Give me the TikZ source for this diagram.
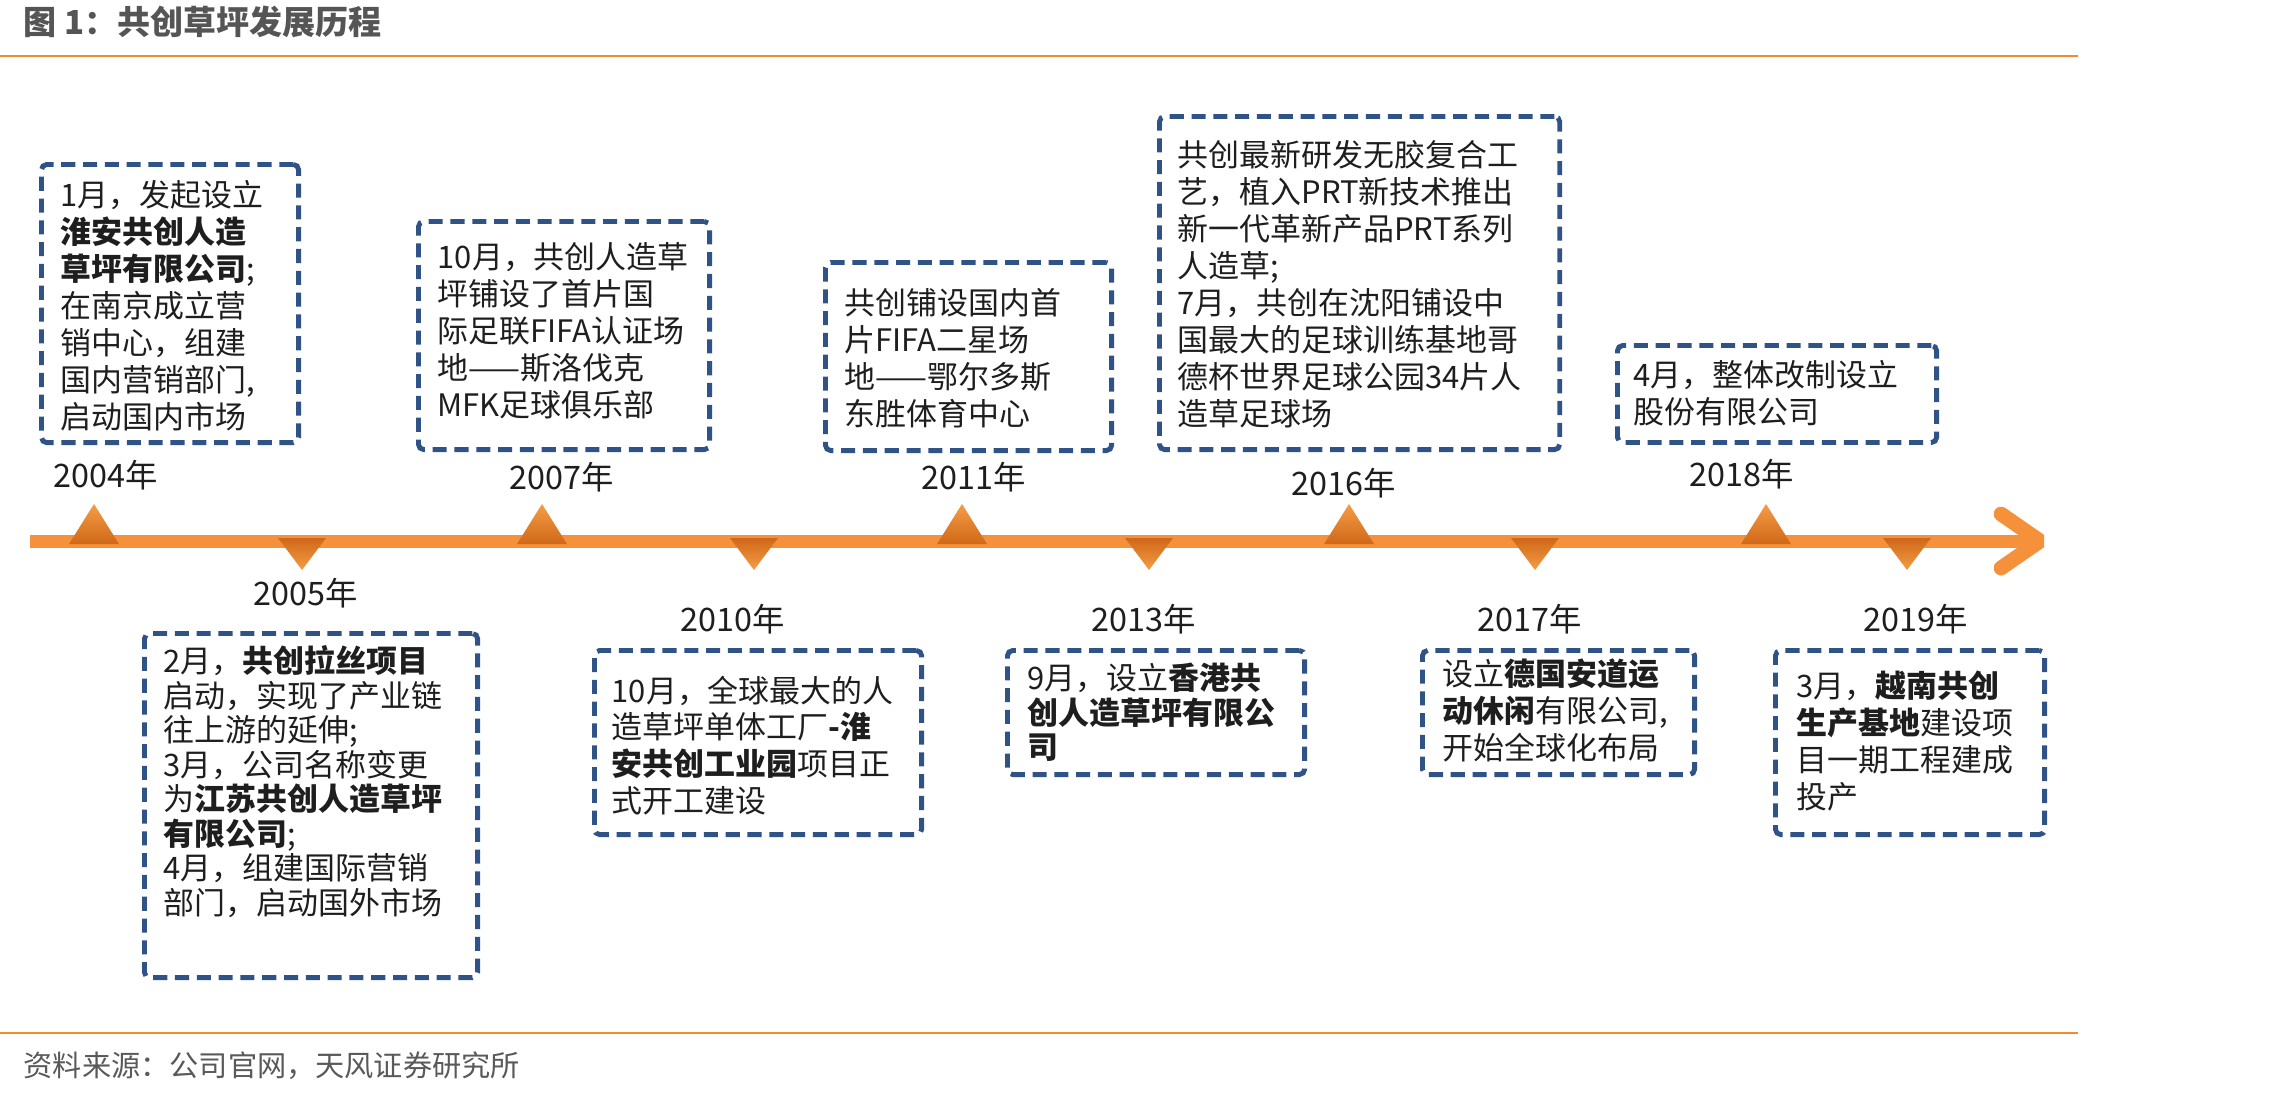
\documentclass[tikz,border=0pt]{standalone}
\usepackage{fontspec}
\setmainfont{Noto Sans CJK SC}
\usetikzlibrary{positioning}
\definecolor{ruleColor}{HTML}{F28C28}
\definecolor{axisColor}{HTML}{F4913A}
\definecolor{markLight}{HTML}{F59C46}
\definecolor{markDark}{HTML}{CF6818}
\definecolor{boxColor}{HTML}{2F5387}
\definecolor{titleColor}{HTML}{555555}
\definecolor{srcColor}{HTML}{595959}
\definecolor{txtColor}{HTML}{1E1E1E}
\tikzset{
	upmark/.pic={\shade[top color=markLight, bottom color=markDark] (-25,3) -- (0,-37) -- (25,3) -- cycle;},
	downmark/.pic={\shade[top color=markDark, bottom color=markLight] (-24,-3) -- (0,29) -- (24,-3) -- cycle;},
	evbox/.style={draw=boxColor, line width=1.4pt, dash pattern=on 4pt off 2.2pt,
		rounded corners=1.5pt, anchor=north west, inner sep=0},
	evtext/.style={anchor=north west, align=left, inner sep=0, text=txtColor,
		font=\fontsize{8.8}{10.5}\selectfont},
	yr/.style={inner sep=0, text=txtColor, font=\fontsize{9.2}{11}\selectfont}
}

\begin{document}
\begin{tikzpicture}[x=0.01cm, y=-0.01cm]
	\useasboundingbox (0,0) rectangle (2279,1096);
	\node[anchor=west, inner sep=0, text=titleColor, font=\fontsize{9.4}{11}\selectfont\bfseries] (title) at (23,22) {图 1：共创草坪发展历程};
	\draw[ruleColor, line width=0.7pt] (0,56) -- (2078,56);
	\draw[ruleColor, line width=0.7pt] (0,1033) -- (2078,1033);
	\node[anchor=west, inner sep=0, text=srcColor, font=\fontsize{8.3}{10}\selectfont] (src) at (23,1066) {资料来源：公司官网，天风证券研究所};
	% time axis
	\draw[axisColor, line width=3.7pt] (30,541) -- (2038,541);
	\draw[axisColor, line width=4.2pt, line cap=round, line join=bevel] (2001,514) -- (2040,541) -- (2001,568);
	\pic at (94,541) {upmark};
	\pic at (542,541) {upmark};
	\pic at (962,541) {upmark};
	\pic at (1349,541) {upmark};
	\pic at (1766,541) {upmark};
	\pic at (302,541) {downmark};
	\pic at (754,541) {downmark};
	\pic at (1149,541) {downmark};
	\pic at (1535,541) {downmark};
	\pic at (1907,541) {downmark};
	% years
	\node[yr] (y04) at (106,475) {2004年};
	\node[yr] (y05) at (306,593) {2005年};
	\node[yr] (y07) at (562,477) {2007年};
	\node[yr] (y10) at (733,619) {2010年};
	\node[yr] (y11) at (974,477) {2011年};
	\node[yr] (y13) at (1144,619) {2013年};
	\node[yr] (y16) at (1344,483) {2016年};
	\node[yr] (y17) at (1530,619) {2017年};
	\node[yr] (y18) at (1742,474) {2018年};
	\node[yr] (y19) at (1916,619) {2019年};
	% event boxes
	\node[evbox, minimum width=2.57cm, minimum height=2.78cm] (b04) at (39,162) {};
	\node[evtext] (t04) at (60,180) {1月，发起设立\\\textbf{淮安共创人造}\\\textbf{草坪有限公司};\\在南京成立营\\销中心，组建\\国内营销部门,\\启动国内市场};
	\node[evbox, minimum width=3.33cm, minimum height=3.44cm] (b05) at (142,631) {};
	\node[evtext, font=\fontsize{8.8}{9.8}\selectfont] (t05) at (163,645) {2月，\textbf{共创拉丝项目}\\启动，实现了产业链\\往上游的延伸;\\3月，公司名称变更\\为\textbf{江苏共创人造草坪}\\\textbf{有限公司};\\4月，组建国际营销\\部门，启动国外市场};
	\node[evbox, minimum width=2.91cm, minimum height=2.28cm] (b07) at (416,219) {};
	\node[evtext] (t07) at (437,242) {10月，共创人造草\\坪铺设了首片国\\际足联FIFA认证场\\地——斯洛伐克\\MFK足球俱乐部};
	\node[evbox, minimum width=3.27cm, minimum height=1.84cm] (b10) at (592,648) {};
	\node[evtext] (t10) at (611,675) {10月，全球最大的人\\造草坪单体工厂\textbf{-淮}\\\textbf{安共创工业园}项目正\\式开工建设};
	\node[evbox, minimum width=2.86cm, minimum height=1.88cm] (b11) at (823,260) {};
	\node[evtext] (t11) at (844,288) {共创铺设国内首\\片FIFA二星场\\地——鄂尔多斯\\东胜体育中心};
	\node[evbox, minimum width=2.97cm, minimum height=1.24cm] (b13) at (1005,648) {};
	\node[evtext, font=\fontsize{8.8}{9.9}\selectfont] (t13) at (1027,662) {9月，设立\textbf{香港共}\\\textbf{创人造草坪有限公}\\\textbf{司}};
	\node[evbox, minimum width=4.00cm, minimum height=3.33cm] (b16) at (1157,114) {};
	\node[evtext] (t16) at (1177,140) {共创最新研发无胶复合工\\艺，植入PRT新技术推出\\新一代革新产品PRT系列\\人造草;\\7月，共创在沈阳铺设中\\国最大的足球训练基地哥\\德杯世界足球公园34片人\\造草足球场};
	\node[evbox, minimum width=2.72cm, minimum height=1.24cm] (b17) at (1420,648) {};
	\node[evtext] (t17) at (1442,658) {设立\textbf{德国安道运}\\\textbf{动休闲}有限公司,\\开始全球化布局};
	\node[evbox, minimum width=3.19cm, minimum height=0.97cm] (b18) at (1615,343) {};
	\node[evtext] (t18) at (1633,360) {4月，整体改制设立\\股份有限公司};
	\node[evbox, minimum width=2.69cm, minimum height=1.84cm] (b19) at (1773,648) {};
	\node[evtext] (t19) at (1796,670) {3月，\textbf{越南共创}\\\textbf{生产基地}建设项\\目一期工程建成\\投产};
\end{tikzpicture}
\end{document}
